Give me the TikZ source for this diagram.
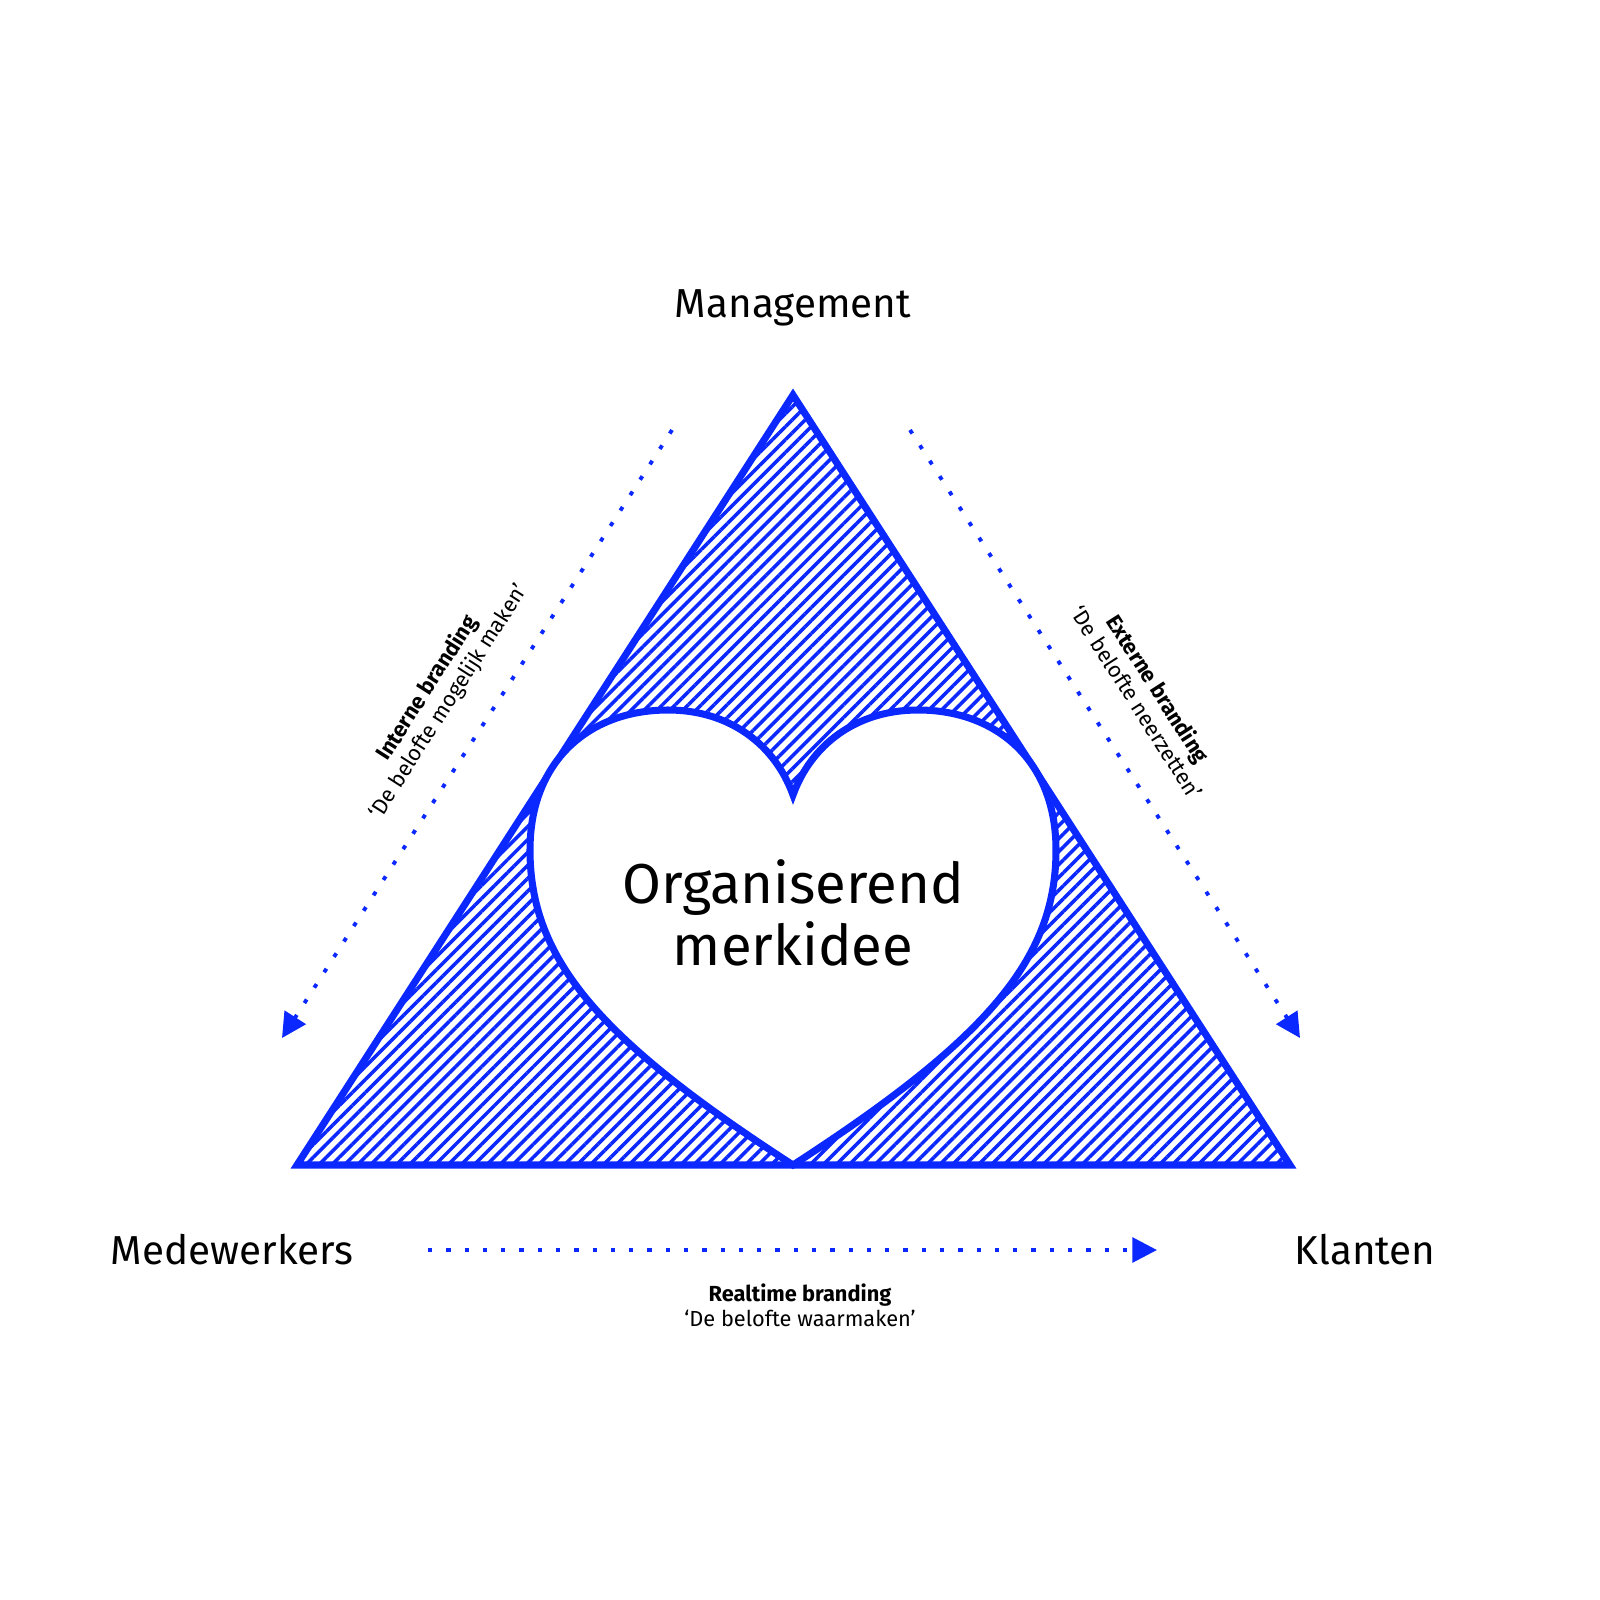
\documentclass[tikz,border=0pt]{standalone}
\usepackage{fontspec}
\setmainfont{Fira Sans}
\usetikzlibrary{arrows.meta,patterns.meta,positioning}
\definecolor{brandblue}{RGB}{10,40,255}
\tikzset{
  edge/.style={brandblue, line width=2pt, line join=miter},
  flow/.style={brandblue, line width=1.1pt, dash pattern=on 1.2pt off 4pt,
    -{Triangle[length=7pt,width=7pt]}},
  party/.style={font=\fontsize{11.5}{14}\selectfont},
  branding/.style={font=\fontsize{6.2}{7.2}\selectfont, align=center}
}
\begin{document}
\begin{tikzpicture}[x=0.01cm,y=-0.01cm]
    \useasboundingbox (0,0) rectangle (1600,1600);
    % corners of the triangle
    \coordinate (top) at (793,395);
    \coordinate (left) at (297,1165);
    \coordinate (right) at (1290,1165);

    % hatched triangle
    \fill[pattern={Lines[angle=45,distance=2.6pt,line width=1pt]}, pattern color=brandblue]
        (top) -- (left) -- (right) -- cycle;
    \draw[edge] (top) -- (left) -- (right) -- cycle;

    % heart
    \filldraw[edge, fill=white] (793,1165)
        .. controls (600,1040) and (530,960) .. (530,850)
        .. controls (530,760) and (590,710) .. (668,710)
        .. controls (730,710) and (775,745) .. (793,795)
        .. controls (811,745) and (856,710) .. (918,710)
        .. controls (996,710) and (1056,760) .. (1056,850)
        .. controls (1056,960) and (986,1040) .. (793,1165) -- cycle;
    \node[font=\fontsize{16}{17.5}\selectfont, align=center] (idea) at (793,913)
        {Organiserend\\merkidee};

    % parties
    \node[party] (mgmt) at (793,308) {Management};
    \node[party] (staff) at (232,1250) {Medewerkers};
    \node[party] (clients) at (1365,1250) {Klanten};

    % flows
    \coordinate (l1) at (672,430);
    \coordinate (l2) at (282,1038);
    \coordinate (r1) at (910,430);
    \coordinate (r2) at (1300,1038);
    \coordinate (b1) at (428,1250);
    \coordinate (b2) at (1157,1250);
    \draw[flow] (l1) -- (l2);
    \draw[flow] (r1) -- (r2);
    \draw[flow] (b1) -- (b2);

    % flow labels
    \node[branding, rotate=57.4] (intern) at (438,695)
        {\textbf{Interne branding}\\‘De belofte mogelijk maken’};
    \node[branding, rotate=-57.4] (extern) at (1148,695)
        {\textbf{Externe branding}\\‘De belofte neerzetten’};
    \node[branding] (realtime) at (800,1305)
        {\textbf{Realtime branding}\\‘De belofte waarmaken’};
\end{tikzpicture}
\end{document}
